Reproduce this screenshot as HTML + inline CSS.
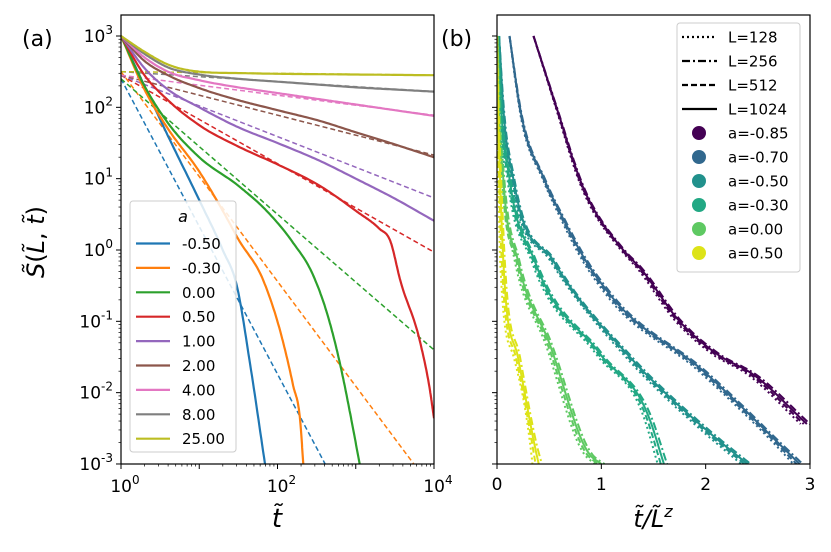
<!DOCTYPE html>
<html><head><meta charset="utf-8"><style>
html,body{margin:0;background:#fff;overflow:hidden;width:831px;height:552px}
svg{display:block;font-family:"DejaVu Sans","Liberation Sans",sans-serif}
</style></head><body>
<svg id="chart" width="831" height="552" viewBox="0 0 831 552" overflow="hidden"></svg>
<script>
// ---- Panel (a) data: log10(t), log10(S) per a ----
const aLabels=["-0.50","-0.30","0.00","0.50","1.00","2.00","4.00","8.00","25.00"];
const aColors=["#1f77b4","#ff7f0e","#2ca02c","#d62728","#9467bd","#8c564b","#e377c2","#7f7f7f","#bcbd22"];
const aLogT=[
 [0,0.3,0.6,1.0,1.3,1.48,1.65,1.84],
 [0,0.3,0.6,1.0,1.3,1.5,1.82,2.05,2.2,2.29,2.33],
 [0,0.3,0.6,1.0,1.5,1.86,2.2,2.45,2.65,2.8,2.93,3.05],
 [0,0.3,0.6,1.0,1.5,2.0,2.54,3.0,3.3,3.44,3.57,3.82,3.95,4.0],
 [0,0.3,0.6,1.0,1.5,2.0,2.54,3.0,3.5,4.0],
 [0,0.3,0.6,1.0,1.5,2.0,2.54,3.0,3.5,4.0],
 [0,0.3,0.6,1.0,1.5,2.0,2.5,3.0,3.5,4.0],
 [0,0.3,0.6,1.0,1.5,2.0,2.5,3.0,3.5,4.0],
 [0,0.3,0.6,1.0,1.5,2.0,2.5,3.0,3.5,4.0]];
const aLogS=[
 [3,2.3,1.6,0.7,0.0,-0.5,-1.6,-3],
 [3,2.25,1.7,1.1,0.55,0.15,-0.43,-1.2,-1.9,-2.4,-3],
 [3,2.3,1.78,1.3,0.9,0.55,0.1,-0.34,-0.95,-1.6,-2.3,-3],
 [3,2.45,2.1,1.75,1.45,1.2,0.9,0.55,0.3,0.13,-0.43,-1.28,-1.98,-2.36],
 [3,2.55,2.25,2.0,1.72,1.5,1.25,1.0,0.72,0.41],
 [3,2.65,2.45,2.27,2.1,1.96,1.81,1.65,1.48,1.3],
 [3,2.7,2.5,2.38,2.28,2.2,2.12,2.04,1.96,1.88],
 [3,2.75,2.56,2.46,2.4,2.36,2.32,2.28,2.25,2.22],
 [3,2.78,2.6,2.5,2.48,2.47,2.465,2.46,2.455,2.45]];
const fitIntercept=[2.4,2.5,2.4,2.45,2.45,2.45,2.45,2.5,2.5];
const fitSlope=[-2.07,-1.47,-0.95,-0.62,-0.43,-0.28,-0.14,-0.07,-0.012];

// ---- Panel (b) data: t/L^z, log10(S) per a ----
const bLabels=["a=-0.85","a=-0.70","a=-0.50","a=-0.30","a=0.00","a=0.50"];
const bColors=["#440154","#31688e","#21918c","#22a884","#5ec962","#dde318"];
const bX=[
 [0.35,0.57,0.8,1.21,1.37,1.75,2.11,2.45,2.97],
 [0.12,0.22,0.46,0.63,0.85,1.08,1.98,2.81,2.9],
 [0.02,0.06,0.16,0.54,1.28,1.98,2.4],
 [0.01,0.04,0.12,0.36,0.99,1.47,1.6],
 [0.005,0.02,0.06,0.2,0.5,0.89,1.0],
 [0.0,0.01,0.03,0.06,0.2,0.38,0.4]];
const bY=[
 [3,2.0,0.97,0.0,-0.25,-1.0,-1.46,-1.74,-2.44],
 [3,2.0,0.97,0.45,-0.15,-0.62,-1.7,-2.87,-3],
 [3,2.0,0.97,-0.15,-1.51,-2.49,-3],
 [3,2.0,1.0,-0.15,-1.46,-2.4,-3],
 [3,2.0,1.0,-0.15,-1.3,-2.87,-3],
 [3,2.0,1.0,-0.15,-1.5,-2.87,-3]];
const lLabels=["L=128","L=256","L=512","L=1024"];
const lShift=[-0.06,0.03,-0.03,0.0];
const lDash=["2,3","8,3,2,3","6,3","none"];

const NS="http://www.w3.org/2000/svg";
const svg=document.getElementById("chart");
function mk(tag,attrs,parent){const e=document.createElementNS(NS,tag);for(const k in attrs)e.setAttribute(k,attrs[k]);(parent||svg).appendChild(e);return e;}
function monotone(xs,ys){
  const n=xs.length,d=[],m=[];
  for(let i=0;i<n-1;i++)d.push((ys[i+1]-ys[i])/(xs[i+1]-xs[i]));
  m[0]=d[0];m[n-1]=d[n-2];
  for(let i=1;i<n-1;i++){
    if(d[i-1]*d[i]<=0)m[i]=0;
    else{const h0=xs[i]-xs[i-1],h1=xs[i+1]-xs[i];m[i]=(h0*d[i]+h1*d[i-1])/(h0+h1);}
  }
  for(let i=0;i<n-1;i++){
    if(d[i]===0){m[i]=0;m[i+1]=0;continue;}
    const a=m[i]/d[i],b=m[i+1]/d[i],s=a*a+b*b;
    if(s>9){const t=3/Math.sqrt(s);m[i]=t*a*d[i];m[i+1]=t*b*d[i];}
  }
  const out=[];
  for(let i=0;i<n-1;i++){
    const h=xs[i+1]-xs[i];
    for(let k=0;k<16;k++){
      const t=k/16,t2=t*t,t3=t2*t;
      const y=(2*t3-3*t2+1)*ys[i]+(t3-2*t2+t)*h*m[i]+(-2*t3+3*t2)*ys[i+1]+(t3-t2)*h*m[i+1];
      out.push([xs[i]+t*h,y]);
    }
  }
  out.push([xs[n-1],ys[n-1]]);
  return out;
}
const yTop=15,yBot=464;
function yS(l){return 36+(3-l)*71.33;}
const aL=121,aR=434;
function xA(l){return aL+l*(aR-aL)/4;}
const bL=497,bR=810;
function xB(v){return bL+v*(bR-bL)/3;}

function clip(id,x0,x1){const c=mk("clipPath",{id:id});mk("rect",{x:x0,y:yTop,width:x1-x0,height:yBot-yTop},c);}
clip("ca",aL,aR);clip("cb",bL,bR);

const ga=mk("g",{"clip-path":"url(#ca)"});


for(let i=0;i<aLabels.length;i++){
  const d=mk("line",{x1:xA(0),y1:yS(fitIntercept[i]),x2:xA(4),y2:yS(fitIntercept[i]+fitSlope[i]*4),stroke:aColors[i],"stroke-width":1.5,"stroke-dasharray":"5,3"},ga);
  
  
}
for(let i=0;i<aLabels.length;i++){
  const pts=monotone(aLogT[i],aLogS[i]).map(p=>xA(p[0]).toFixed(1)+","+yS(p[1]).toFixed(1)).join(" ");
  const p=mk("polyline",{points:pts,fill:"none",stroke:aColors[i],"stroke-width":2.2,"stroke-linejoin":"round"},ga);
  
  
}
const gb=mk("g",{"clip-path":"url(#cb)"});


for(let i=0;i<bLabels.length;i++){
  for(let k=0;k<lLabels.length;k++){
    const n=bX[i].length;
    const xs=bX[i].map((v,j)=>v+lShift[k]*(j/(n-1)));
    const pts=monotone(xs,bY[i]).map(p=>xB(p[0]).toFixed(1)+","+yS(p[1]).toFixed(1)).join(" ");
    const attrs={points:pts,fill:"none",stroke:bColors[i],"stroke-width":2};
    if(lDash[k]!=="none")attrs["stroke-dasharray"]=lDash[k];
    const p=mk("polyline",attrs,gb);
    
    
  }
}
function frame(x0,x1,name){const r=mk("rect",{x:x0,y:yTop,width:x1-x0,height:yBot-yTop,fill:"none",stroke:"#000","stroke-width":1.2});}
frame(aL,aR,"panel-a-frame");frame(bL,bR,"panel-b-frame");
function ylogTicks(x0,labels){
  for(let d=-3;d<=3;d++){
    mk("line",{x1:x0-5,y1:yS(d),x2:x0,y2:yS(d),stroke:"#000","stroke-width":1});
    for(let m=2;m<10;m++){const l=d+Math.log10(m);if(l<3.29)mk("line",{x1:x0-2.5,y1:yS(l),x2:x0,y2:yS(l),stroke:"#000","stroke-width":0.7});}
    if(labels){const t=mk("text",{x:x0-8,y:yS(d)+6,"text-anchor":"end","font-size":17});t.innerHTML='10<tspan dy="-8" font-size="12">'+d+'</tspan>';}
  }
}
ylogTicks(aL,true);ylogTicks(bL,false);
for(let d=0;d<=4;d++){
  mk("line",{x1:xA(d),y1:yBot,x2:xA(d),y2:yBot+5,stroke:"#000"});
  for(let m=2;m<10&&d<4;m++)mk("line",{x1:xA(d+Math.log10(m)),y1:yBot,x2:xA(d+Math.log10(m)),y2:yBot+2.5,stroke:"#000","stroke-width":0.7});
  if(d%2==0){const t=mk("text",{x:xA(d)+4,y:yBot+28,"text-anchor":"middle","font-size":17});t.innerHTML='10<tspan dy="-8" font-size="12">'+d+'</tspan>';}
}
for(let v=0;v<=3;v++){
  mk("line",{x1:xB(v),y1:yBot,x2:xB(v),y2:yBot+5,stroke:"#000"});
  const t=mk("text",{x:xB(v),y:yBot+26,"text-anchor":"middle","font-size":17});t.textContent=v;
  
}
function txt(x,y,s,size,name,extra){const t=mk("text",Object.assign({x:x,y:y,"font-size":size},extra||{}));t.innerHTML=s;return t;}
txt(22,46,"(a)",22,"panel-a-label");
txt(441,46,"(b)",22,"panel-b-label");
txt(277,527,'<tspan font-style="italic">t̃</tspan>',26,"x-axis-title-a",{"text-anchor":"middle"});
txt(653,527,'<tspan font-style="italic">t̃/L̃</tspan><tspan dy="-10" font-size="16" font-style="italic">z</tspan>',24,"x-axis-title-b",{"text-anchor":"middle"});
txt(0,0,'<tspan font-style="italic">S̃</tspan>(<tspan font-style="italic">L̃</tspan>, <tspan font-style="italic">t̃</tspan>)',24,"y-axis-title",{"text-anchor":"middle",transform:"translate(44,242) rotate(-90)"});

const la=mk("g",{});
mk("rect",{x:130,y:201,width:106,height:251,rx:3,fill:"#fff","fill-opacity":0.85,stroke:"#ccc"},la);
txt(183,222,'<tspan font-style="italic">a</tspan>',16,"legend-a-title",{"text-anchor":"middle"});
for(let i=0;i<aLabels.length;i++){
  const y=243.5+i*24.4;
  const l=mk("line",{x1:136,y1:y,x2:170,y2:y,stroke:aColors[i],"stroke-width":2.2},la);
  
  txt(182,y+5.5,aLabels[i],15,"legend-entry-"+aLabels[i]);
}
const lb=mk("g",{});
mk("rect",{x:677,y:23,width:123,height:249,rx:3,fill:"#fff","fill-opacity":0.85,stroke:"#ccc"},lb);
for(let k=0;k<lLabels.length;k++){
  const y=37+k*24;const a={x1:682,y1:y,x2:717,y2:y,stroke:"#000","stroke-width":2.2};
  if(lDash[k]!=="none")a["stroke-dasharray"]=lDash[k];
  const l=mk("line",a,lb);
  txt(728,y+5.5,lLabels[k],15,"legend-entry-"+lLabels[k]);
}
for(let i=0;i<bLabels.length;i++){
  const y=133+i*24;
  const c=mk("circle",{cx:699,cy:y,r:7,fill:bColors[i]},lb);
  
  txt(728,y+5.5,bLabels[i],15,"legend-entry-"+bLabels[i]);
}
</script>
</body></html>
